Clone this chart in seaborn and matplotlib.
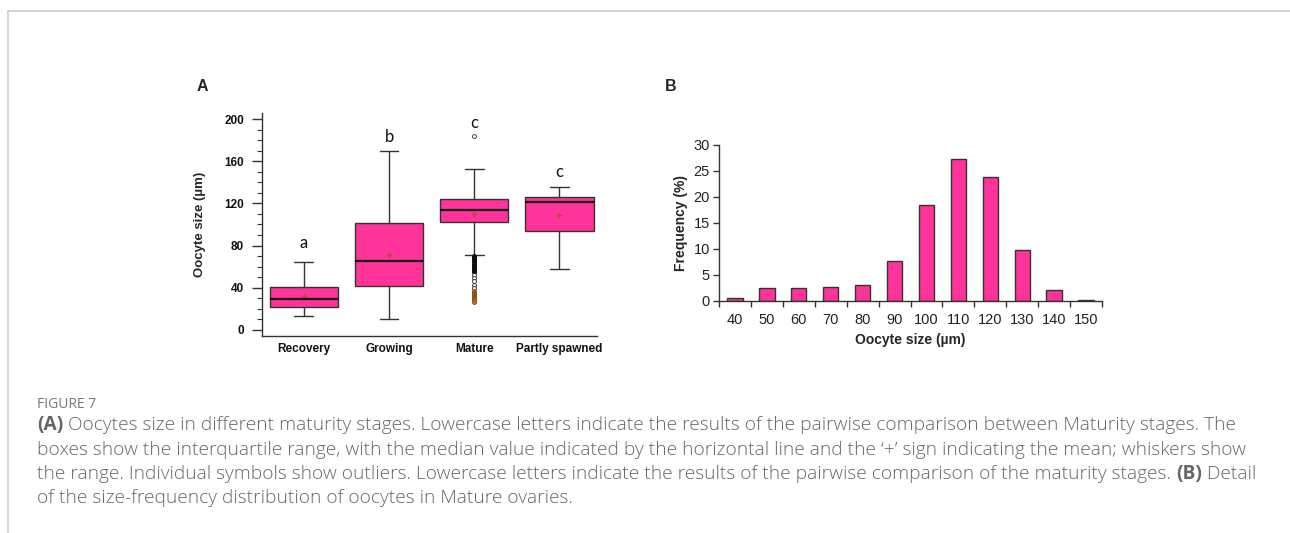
import numpy as np
import pandas as pd
import matplotlib.pyplot as plt
import seaborn as sns
from matplotlib.lines import Line2D

# ---- data, panel A (box summaries) ----
stages = ['Recovery', 'Growing', 'Mature', 'Partly spawned']
whis_low = [13.6, 10.1, 70.9, 57.6]
q1 = [21.5, 41.8, 101.9, 93.4]
median = [29.7, 65.8, 113.6, 121.2]
q3 = [41.1, 101.3, 124.0, 126.0]
whis_high = [64.6, 170.0, 152.5, 135.8]
means = [32.3, 70.9, 109.8, 109.2]
letters = ['a', 'b', 'c', 'c']
letter_y = [82, 183, 196, 150]

# outliers of the Mature stage
out_dark = [70, 69, 68, 67, 66, 65, 64, 63, 62, 61, 60, 59, 58, 57, 56, 55]
out_open = [184, 52, 49, 46, 43, 40]
out_orange = [37, 36, 35, 34, 33, 32, 31, 30, 29, 28, 27]

# ---- data, panel B ----
size_bins = ['40', '50', '60', '70', '80', '90', '100', '110', '120', '130', '140', '150']
frequency = [0.5, 2.4, 2.4, 2.6, 3.0, 7.6, 18.4, 27.3, 23.8, 9.8, 2.1, 0.2]

pink = '#ff3399'
edge = '#333333'

sns.set_style('white')
plt.rcParams['font.family'] = ['Liberation Sans', 'DejaVu Sans']

W, H = 1290, 533
fig = plt.figure(figsize=(W / 100, H / 100), dpi=100)

def fx(px):
    return px / W

def fy(py):
    return 1 - py / H

# ---------------- panel A ----------------
axA = fig.add_axes([fx(262), fy(336), fx(597) - fx(262), fy(113) - fy(336)])
box_df = pd.DataFrame({
    'stage': np.repeat(stages, 5),
    'size': np.ravel(np.column_stack([whis_low, q1, median, q3, whis_high])),
})
sns.boxplot(data=box_df, x='stage', y='size', order=stages, ax=axA,
            color=pink, saturation=1, width=0.8, whis=(0, 100),
            linecolor=edge, linewidth=1, showfliers=False, capwidths=0.22,
            medianprops={'color': '#111111', 'linewidth': 1.6})

for vals, face, ec in [(out_dark, '#111111', '#111111'),
                       (out_open, 'white', '#222222'),
                       (out_orange, '#c8702a', '#8a4a16')]:
    odf = pd.DataFrame({'stage': ['Mature'] * len(vals), 'size': vals})
    sns.stripplot(data=odf, x='stage', y='size', order=stages, ax=axA,
                  jitter=False, color=face, size=2.8, linewidth=0.6, edgecolor=ec)

sns.pointplot(x=stages, y=means, order=stages, ax=axA, linestyle='none',
              marker='+', color='#a0522d', markersize=4, markeredgewidth=0.9,
              errorbar=None)

for i, (lt, ly) in enumerate(zip(letters, letter_y)):
    axA.text(i, ly, lt, ha='center', va='center', fontsize=12,
             family=['Lato', 'DejaVu Sans'], color='#111111')

axA.set_xlim(-0.49, 3.44)
axA.set_ylim(-5.7, 205.7)
axA.set_yticks([0, 40, 80, 120, 160, 200])
axA.set_yticks(np.arange(0, 201, 10), minor=True)
axA.set_xlabel('')
axA.set_ylabel('Oocyte size (µm)', fontsize=9.5, fontweight='bold', labelpad=13)
for s in ['top', 'right']:
    axA.spines[s].set_visible(False)
for s in ['left', 'bottom']:
    axA.spines[s].set_color(edge)
    axA.spines[s].set_linewidth(1)
axA.tick_params(axis='y', which='major', length=7, width=1, color=edge,
                labelsize=8.5, pad=6, left=True)
axA.tick_params(axis='y', which='minor', length=3.5, width=0.8, color=edge, left=True)
axA.tick_params(axis='x', length=0, labelsize=8.5, pad=5)
for lab in axA.get_xticklabels() + axA.get_yticklabels():
    lab.set_fontweight('bold')
    lab.set_color('#111111')

# ---------------- panel B ----------------
axB = fig.add_axes([fx(719), fy(300.7), fx(1102) - fx(719), fy(145) - fy(300.7)])
sns.barplot(x=size_bins, y=frequency, ax=axB, color=pink, saturation=1,
            width=0.48, edgecolor=edge, linewidth=1)
axB.set_xlim(-0.5, len(size_bins) - 0.5)
axB.set_ylim(0, 30)
axB.set_yticks([0, 5, 10, 15, 20, 25, 30])
axB.set_xticks(np.arange(-0.5, len(size_bins), 1), minor=True)
for s in ['top', 'right']:
    axB.spines[s].set_visible(False)
for s in ['left', 'bottom']:
    axB.spines[s].set_color(edge)
    axB.spines[s].set_linewidth(1)
axB.tick_params(axis='x', which='major', length=0, labelsize=10.5, pad=9,
                labelcolor='#222222')
axB.tick_params(axis='x', which='minor', length=4.5, width=1, color=edge, bottom=True)
axB.tick_params(axis='y', length=4.5, width=1, color=edge, labelsize=10.5, pad=2,
                labelcolor='#222222', left=True)
axB.set_xlabel('Oocyte size (µm)', fontsize=10, fontweight='bold', labelpad=4)
axB.set_ylabel('Frequency (%)', fontsize=10, fontweight='bold', labelpad=4)

# panel letters
fig.text(fx(202), fy(87), 'A', fontsize=11.5, fontweight='bold', ha='center', va='center')
fig.text(fx(671), fy(87), 'B', fontsize=11.5, fontweight='bold', ha='center', va='center')

# page frame lines
fig.add_artist(Line2D([fx(8), 1], [fy(11), fy(11)], color='#cccccc', linewidth=1.2))
fig.add_artist(Line2D([fx(8), fx(8)], [fy(11), 0], color='#cccccc', linewidth=1.2))

# caption
cap_font = ['Open Sans', 'DejaVu Sans']
cap_col = '#666666'
cap_size = 13.8
fig.text(fx(37), fy(404), 'FIGURE 7', fontsize=10, color='#777777',
         family=cap_font, va='center')

renderer = fig.canvas.get_renderer()

def line(parts, y):
    # place text pieces one after another on a baseline
    x = fx(37)
    for txt, wt in parts:
        t = fig.text(x, fy(y), txt, fontsize=cap_size, color=cap_col, family=cap_font,
                     fontweight=wt, va='baseline')
        bb = t.get_window_extent(renderer=renderer)
        x = bb.x1 / W

line([('(A)', 'bold'),
      (' Oocytes size in different maturity stages. Lowercase letters indicate the results of the pairwise comparison between Maturity stages. The', 'light')], 430)
line([('boxes show the interquartile range, with the median value indicated by the horizontal line and the \u2018+\u2019 sign indicating the mean; whiskers show', 'light')], 455)
line([('the range. Individual symbols show outliers. Lowercase letters indicate the results of the pairwise comparison of the maturity stages. ', 'light'),
      ('(B)', 'bold'), (' Detail', 'light')], 479)
line([('of the size-frequency distribution of oocytes in Mature ovaries.', 'light')], 503)

fig.savefig('out.png', dpi=100)
